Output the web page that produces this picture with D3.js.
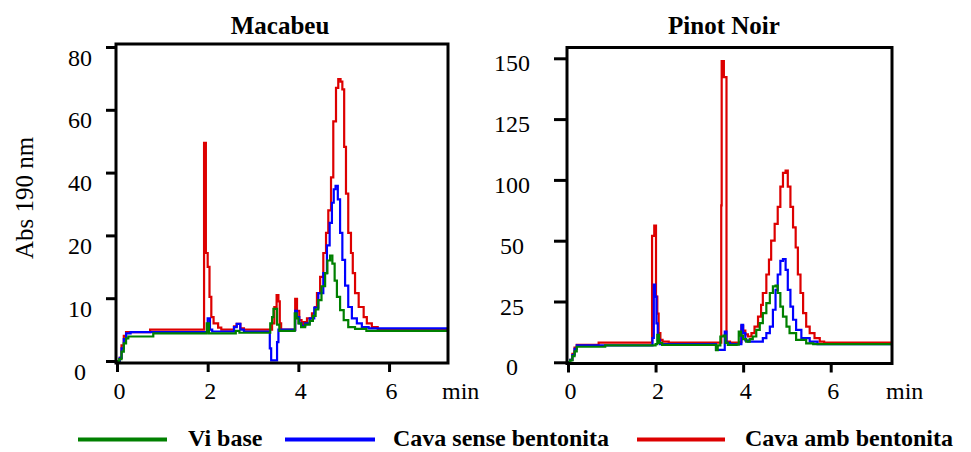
<!DOCTYPE html>
<html>
<head>
<meta charset="utf-8">
<script src="https://cdn.jsdelivr.net/npm/d3@7"></script>
<style>
  body { margin: 0; background: #fff; }
  svg { display: block; }
  text { font-family: "Liberation Serif", "Times New Roman", serif; fill: #000; }
</style>
</head>
<body>
<svg id="chart" width="971" height="452"></svg>
<script>
// Series names and colours (legend order)
const seriesNames = ["Vi base", "Cava sense bentonita", "Cava amb bentonita"];
const seriesColors = ["#008000", "#0000ff", "#dd0000"];

// Axis tick labels
const macabeuTicksY = [0, 10, 20, 40, 60, 80];
const pinotTicksY = [0, 25, 50, 100, 125, 150];
const ticksX = [0, 2, 4, 6];

// Macabeu chromatograms: [time (min), absorbance]
const macabeuViBase = [[0,0],[0.05,0.3],[0.1,1.5],[0.15,2.8],[0.2,3.6],[0.25,3.9],[0.8,4.4],[1.95,4.4],[1.98,6.0],[2.03,4.4],[2.55,4.4],[2.62,4.8],[2.7,4.5],[3.35,4.5],[3.38,6.0],[3.42,7.0],[3.45,8.3],[3.5,8.3],[3.53,5.8],[3.58,4.8],[3.9,4.8],[3.92,7.6],[3.96,6.8],[4.0,6.0],[4.06,5.4],[4.15,5.8],[4.25,6.4],[4.32,7.2],[4.38,8.2],[4.44,9.7],[4.51,11.9],[4.59,14.0],[4.64,16.0],[4.70,16.8],[4.75,15.5],[4.80,12.8],[4.85,10.2],[4.92,8.1],[5.0,6.5],[5.1,5.4],[5.25,5.1],[5.5,4.8],[7.3,4.8]];
const macabeuSense = [[0,0],[0.06,0.5],[0.1,2.0],[0.15,3.5],[0.2,4.4],[0.3,4.6],[1.97,4.6],[2.0,6.8],[2.05,5.0],[2.1,4.7],[2.5,4.7],[2.58,5.4],[2.64,5.9],[2.72,5.0],[2.8,4.7],[3.35,4.7],[3.37,2.0],[3.4,0.1],[3.5,0.1],[3.53,3.0],[3.56,5.0],[3.9,4.9],[3.93,8.0],[3.97,7.0],[4.02,6.0],[4.07,5.6],[4.15,6.0],[4.25,6.8],[4.35,8.5],[4.44,10.8],[4.55,14.0],[4.63,18.4],[4.69,24.0],[4.74,30.4],[4.78,34.7],[4.82,35.8],[4.87,31.5],[4.92,20.8],[4.97,16.1],[5.03,12.0],[5.10,8.6],[5.18,6.8],[5.29,6.0],[5.40,5.4],[5.55,5.2],[7.3,5.2]];
const macabeuAmb = [[0,0],[0.06,0.5],[0.1,2.5],[0.15,4.0],[0.2,4.6],[0.7,4.6],[0.73,5.0],[1.90,5.0],[1.92,49.5],[1.96,17.2],[2.0,15.0],[2.04,10.2],[2.08,7.0],[2.13,6.0],[2.23,5.3],[2.3,5.0],[2.5,5.0],[2.58,5.5],[2.64,5.9],[2.72,5.2],[2.8,5.0],[3.37,5.0],[3.42,6.0],[3.47,8.6],[3.52,10.5],[3.56,9.5],[3.59,6.0],[3.62,5.0],[3.9,5.0],[3.93,9.9],[3.97,8.0],[4.02,6.5],[4.07,5.7],[4.12,6.2],[4.19,6.8],[4.30,7.6],[4.37,8.6],[4.41,10.8],[4.48,13.4],[4.55,17.2],[4.61,20.8],[4.66,28.0],[4.72,38.5],[4.77,56.3],[4.83,67.0],[4.88,69.8],[4.93,69.0],[4.97,66.5],[5.01,48.2],[5.05,33.3],[5.10,20.8],[5.16,17.2],[5.20,14.0],[5.25,10.8],[5.33,8.6],[5.44,7.0],[5.51,6.0],[5.62,5.4],[5.75,5.0],[7.3,5.0]];

// Pinot Noir chromatograms: [time (min), absorbance]
const pinotViBase = [[0,0],[0.05,0.8],[0.1,2.5],[0.15,4.5],[0.2,6.4],[0.8,6.4],[0.85,7.0],[1.95,7.0],[2.0,7.5],[2.04,11.3],[2.08,8.0],[2.15,7.2],[3.35,7.2],[3.38,5.0],[3.42,7.0],[3.48,10.6],[3.55,11.0],[3.6,8.0],[3.65,7.2],[3.85,7.3],[3.9,12.6],[3.95,11.0],[4.0,9.5],[4.07,8.5],[4.15,9.5],[4.22,10.6],[4.30,13.3],[4.38,16.1],[4.45,20.2],[4.53,24.3],[4.61,28.5],[4.68,31.2],[4.74,31.5],[4.79,28.5],[4.85,22.9],[4.91,18.8],[4.99,14.7],[5.06,12.0],[5.21,9.2],[5.44,7.8],[5.6,7.5],[7.4,7.5]];
const pinotSense = [[0,0],[0.05,1.0],[0.1,3.0],[0.15,5.5],[0.2,7.0],[1.9,7.0],[1.93,10.0],[1.96,31.9],[1.99,27.0],[2.02,16.0],[2.05,9.2],[2.1,7.5],[3.35,7.5],[3.38,5.1],[3.55,5.1],[3.58,12.6],[3.62,8.0],[3.7,7.5],[3.92,7.5],[3.96,15.4],[4.0,12.0],[4.05,9.0],[4.11,8.5],[4.30,8.5],[4.45,9.9],[4.53,12.0],[4.61,14.7],[4.68,21.6],[4.74,29.8],[4.79,36.1],[4.85,41.7],[4.91,42.4],[4.97,38.0],[5.02,29.8],[5.08,22.9],[5.14,17.5],[5.21,13.3],[5.33,9.9],[5.52,8.5],[5.7,7.5],[7.4,7.5]];
const pinotAmb = [[0,0],[0.05,1.0],[0.1,3.5],[0.15,6.0],[0.2,7.2],[0.68,7.2],[0.7,8.1],[1.91,8.1],[1.92,54.0],[1.97,62.5],[2.01,27.0],[2.04,20.0],[2.07,12.0],[2.11,9.2],[2.16,8.5],[2.3,8.1],[3.48,8.1],[3.50,79.0],[3.51,148.9],[3.56,142.3],[3.62,8.5],[3.7,8.1],[3.92,8.3],[3.96,15.0],[4.0,13.0],[4.05,11.5],[4.11,10.6],[4.19,12.0],[4.26,14.7],[4.34,18.8],[4.41,23.6],[4.45,28.5],[4.53,36.1],[4.59,42.2],[4.64,50.0],[4.72,63.9],[4.79,77.8],[4.85,94.4],[4.91,102.9],[4.97,103.8],[5.02,94.4],[5.08,77.8],[5.14,61.0],[5.2,47.2],[5.25,36.1],[5.31,28.5],[5.37,20.2],[5.44,14.7],[5.52,12.0],[5.63,9.9],[5.75,8.5],[5.85,8.1],[7.4,8.1]];

const svg = d3.select("#chart");

const panels = [
  { id: "mac", title: "Macabeu", titleX: 280, left: 116, right: 448, top: 44, bottom: 363,
    xStart: 117, xMax: 7.3, yTicks: macabeuTicksY, yZero: 361, yTopTick: 47,
    labelX: 80, labelDy: 10, tickLen: 10,
    series: [macabeuViBase, macabeuSense, macabeuAmb] },
  { id: "pin", title: "Pinot Noir", titleX: 724, left: 567, right: 892, top: 47.5, bottom: 363.5,
    xStart: 568, xMax: 7.4, yTicks: pinotTicksY, yZero: 362.3, yTopTick: 58.3,
    labelX: 512, labelDy: 4.5, tickLen: 13,
    series: [pinotViBase, pinotSense, pinotAmb] }
];

panels.forEach(p => {
  const x = d3.scaleLinear().domain([0, p.xMax]).range([p.xStart, p.right]);
  const n = p.yTicks.length;
  // evenly spaced tick positions with the stated labels
  const y = d3.scaleLinear()
    .domain(p.yTicks)
    .range(p.yTicks.map((d, i) => p.yZero - i * (p.yZero - p.yTopTick) / (n - 1)));

  const g = svg.append("g");

  g.append("clipPath").attr("id", "clip-" + p.id)
    .append("rect")
    .attr("x", p.left).attr("y", p.top)
    .attr("width", p.right - p.left).attr("height", p.bottom - p.top);

  const line = d3.line()
    .x(d => x(d[0]))
    .y(d => y(d[1]))
    .curve(d3.curveStepAfter);

  // red first, green last (on top)
  [2, 1, 0].forEach(i => {
    g.append("path")
      .datum(p.series[i])
      .attr("clip-path", "url(#clip-" + p.id + ")")
      .attr("fill", "none")
      .attr("stroke", seriesColors[i])
      .attr("stroke-width", 2.2)
      .attr("stroke-linejoin", "miter")
      .attr("d", line);
  });

  // frame
  g.append("rect")
    .attr("x", p.left).attr("y", p.top)
    .attr("width", p.right - p.left).attr("height", p.bottom - p.top)
    .attr("fill", "none").attr("stroke", "#000").attr("stroke-width", 3);

  // y axis
  const yAxis = g.append("g")
    .attr("transform", `translate(${p.left},0)`)
    .call(d3.axisLeft(y).tickValues(p.yTicks).tickSize(p.tickLen).tickSizeOuter(0).tickFormat(d3.format("d")));
  yAxis.select(".domain").remove();
  yAxis.selectAll(".tick line").attr("stroke", "#000").attr("stroke-width", 3);
  yAxis.selectAll(".tick text")
    .attr("x", p.labelX - p.left)
    .attr("dy", null)
    .attr("y", p.labelDy + 8)
    .attr("text-anchor", "middle")
    .style("font-family", '"Liberation Serif", "Times New Roman", serif')
    .style("font-size", "24px");

  // x axis
  const xAxis = g.append("g")
    .attr("transform", `translate(0,${p.bottom})`)
    .call(d3.axisBottom(x).tickValues(ticksX).tickSize(9).tickSizeOuter(0));
  xAxis.select(".domain").remove();
  xAxis.selectAll(".tick line").attr("stroke", "#000").attr("stroke-width", 3);
  xAxis.selectAll(".tick text")
    .attr("dy", null)
    .attr("y", 399 - p.bottom)
    .attr("dx", 2)
    .style("font-family", '"Liberation Serif", "Times New Roman", serif')
    .style("font-size", "24px");

  g.append("text")
    .attr("x", p.right - 6).attr("y", 399)
    .style("font-size", "24px")
    .text("min");

  g.append("text")
    .attr("x", p.titleX).attr("y", 34)
    .attr("text-anchor", "middle")
    .style("font-size", "25px").style("font-weight", "bold")
    .text(p.title);
});

// y-axis title
svg.append("text")
  .attr("transform", "translate(33,198) rotate(-90)")
  .attr("text-anchor", "middle")
  .style("font-size", "25px")
  .text("Abs 190 nm");

// legend
const legendItems = [
  { x0: 78, x1: 167, tx: 188 },
  { x0: 285, x1: 375, tx: 393 },
  { x0: 637, x1: 725, tx: 745 }
];
legendItems.forEach((d, i) => {
  svg.append("line")
    .attr("x1", d.x0).attr("x2", d.x1)
    .attr("y1", 439.5).attr("y2", 439.5)
    .attr("stroke", seriesColors[i]).attr("stroke-width", 4);
  svg.append("text")
    .attr("x", d.tx).attr("y", 446)
    .style("font-size", "24px").style("font-weight", "bold")
    .text(seriesNames[i]);
});
</script>
</body>
</html>
